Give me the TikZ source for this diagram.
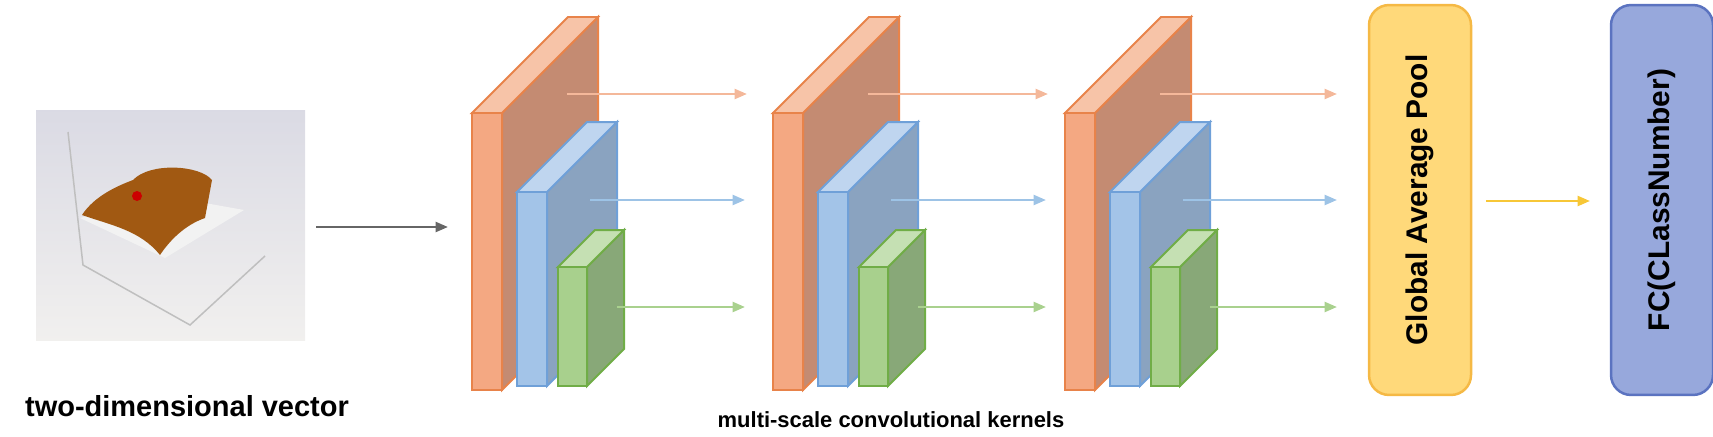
\documentclass[tikz,border=0pt]{standalone}
\usepackage{fontspec}
\setmainfont{Liberation Sans}
\usetikzlibrary{arrows.meta}
\definecolor{orF}{HTML}{F4A882}\definecolor{orE}{HTML}{E8834A}
\definecolor{orT}{HTML}{F7C4A8}\definecolor{orS}{HTML}{C48B72}
\definecolor{orA}{HTML}{F4B89A}
\definecolor{blF}{HTML}{A3C4E8}\definecolor{blE}{HTML}{6FA0D8}
\definecolor{blT}{HTML}{BFD5EF}\definecolor{blS}{HTML}{8AA3C0}
\definecolor{blA}{HTML}{9DC3E6}
\definecolor{grF}{HTML}{A8D08D}\definecolor{grE}{HTML}{70AD47}
\definecolor{grT}{HTML}{C5E0B3}\definecolor{grS}{HTML}{88A878}
\definecolor{grA}{HTML}{A9D18E}
\definecolor{gapF}{HTML}{FFD97A}\definecolor{gapE}{HTML}{F5B945}
\definecolor{fcF}{HTML}{97A8DC}\definecolor{fcE}{HTML}{5B73C0}
\tikzset{
  flow/.style={line width=0.05cm, -{Triangle[length=0.25cm,width=0.2cm]}},
  headbox/.style={draw, line width=0.05cm, rounded corners=0.4cm, minimum width=7.8cm,
       minimum height=2.04cm, inner sep=0pt, font=\bfseries\fontsize{17}{20}\selectfont},
}
% one slab: x left, y top, y bottom, width, depth, colour prefix
\newcommand{\slab}[6]{
  \fill[#6S,draw=#6E,line width=0.04cm] (#1+#4,#2) -- ++(#5,-#5) -- (#1+#4+#5,#3-#5) -- (#1+#4,#3) -- cycle;
  \fill[#6T,draw=#6E,line width=0.04cm] (#1,#2) -- ++(#5,-#5) -- ++(#4,0) -- (#1+#4,#2) -- cycle;
  \fill[#6F,draw=#6E,line width=0.04cm] (#1,#2) rectangle (#1+#4,#3);
}
\begin{document}
\begin{tikzpicture}[x=0.02cm,y=-0.02cm]
\useasboundingbox (0,0) rectangle (1713,436);

% input picture
\shade[top color=blue!15!gray!25, bottom color=orange!8!gray!12] (36,110) rectangle (305,340);
\draw[gray!50, line width=0.03cm] (68,132) -- (83,265) -- (190,325) -- (265,256);
\fill[white!90!gray] (80,218) -- (165,258) -- (244,210) -- (160,195) -- cycle;
\fill[orange!60!brown!70!black] (82,215) .. controls (95,195) and (120,185) .. (133,180)
  .. controls (150,162) and (200,165) .. (212,180) -- (205,218) .. controls (185,225) and (170,240) .. (160,255)
  .. controls (140,230) and (110,225) .. (82,215);
\fill[red!80!black] (137,196) circle (5);
\node (vecpic) at (170,225) {};

\node[font=\bfseries\fontsize{16.5}{20}\selectfont] (veclabel) at (187,406) {two-dimensional vector};
\coordinate (vecout) at (316,227);
\coordinate (blockin) at (448,227);
\draw[flow, gray!80!black] (vecout) -- (blockin);

% three convolution stages
\foreach \dx in {0,301,593} {
  \slab{472+\dx}{113}{390}{30}{96}{or}
  \slab{517+\dx}{192}{386}{30}{70}{bl}
  \slab{558+\dx}{267}{386}{29}{37}{gr}
}
\foreach \a in {0,301} {
  \draw[flow, orA] (567+\a,94) -- (747+\a,94);
  \draw[flow, blA] (590+\a,200) -- (745+\a,200);
  \draw[flow, grA] (617+\a,307) -- (745+\a,307);
}
\draw[flow, orA] (1160,94) -- (1337,94);
\draw[flow, blA] (1183,200) -- (1337,200);
\draw[flow, grA] (1210,307) -- (1337,307);
\node[font=\bfseries\fontsize{12.5}{15}\selectfont] (convlabel) at (891,420) {multi-scale convolutional kernels};

% pooling and classifier
\node[headbox, fill=gapF, draw=gapE, rotate=90] (gap) at (1420,200) {Global Average Pool};
\node[headbox, fill=fcF, draw=fcE, rotate=90] (fc) at (1662,200) {FC(CLassNumber)};
\coordinate (gapout) at (1486,201);
\coordinate (fcin) at (1590,201);
\draw[flow, gapE!80!yellow] (gapout) -- (fcin);
\end{tikzpicture}
\end{document}
